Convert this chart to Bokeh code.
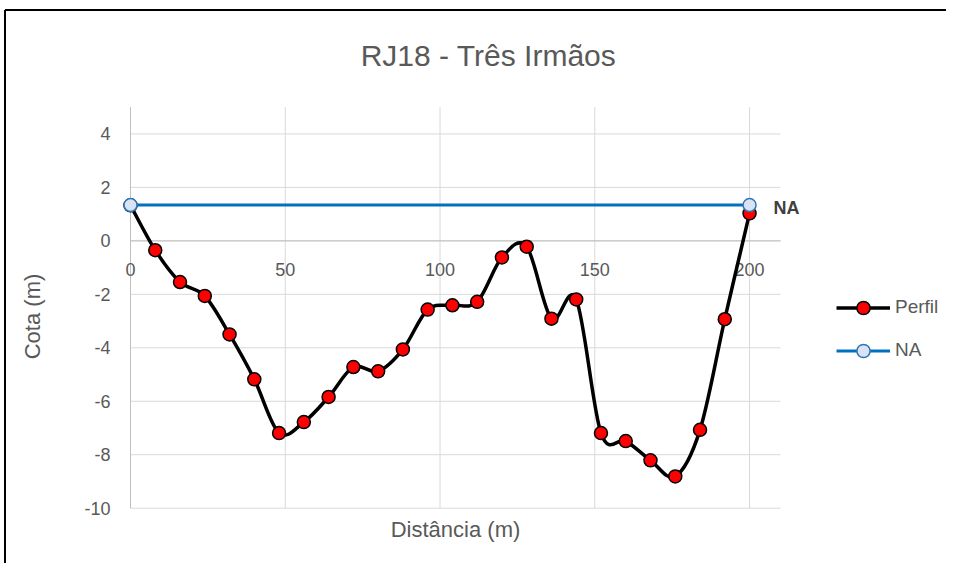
import numpy as np
from bokeh.plotting import figure
from bokeh.models import Range1d, Legend, LegendItem, ColumnDataSource
from bokeh.core.properties import value
from bokeh.embed import file_html
from bokeh.resources import INLINE

# ---------------- data ----------------
title_text = "RJ18 - Três Irmãos"
x_label = "Distância (m)"
y_label = "Cota (m)"

dist = [0, 8, 16, 24, 32, 40, 48, 56, 64, 72, 80, 88, 96, 104, 112, 120, 128,
        136, 144, 152, 160, 168, 176, 184, 192, 200]
cota = [1.33, -0.35, -1.54, -2.06, -3.50, -5.18, -7.19, -6.78, -5.84, -4.72,
        -4.88, -4.06, -2.57, -2.41, -2.28, -0.62, -0.22, -2.91, -2.19, -7.19,
        -7.49, -8.21, -8.81, -7.07, -2.93, 1.03]

na_x = [0, 200]
na_y = [1.34, 1.34]
na_label = ["NA"]

x_ticks = [0, 50, 100, 150, 200]
x_tick_labels = ["0", "50", "100", "150", "200"]
y_ticks = [-10, -8, -6, -4, -2, 0, 2, 4]
y_tick_labels = ["-10", "-8", "-6", "-4", "-2", "0", "2", "4"]

# plot-area extent in data units
X_MIN, X_MAX = 0, 210
Y_MIN, Y_MAX = -10, 5

# ---------------- layout (picture pixels, figure origin = picture origin) ----------------
W, H = 946, 563
PLOT_L, PLOT_R = 130, 780
PLOT_T, PLOT_B = 106.7, 507.7
SX = (PLOT_R - PLOT_L) / (X_MAX - X_MIN)
SY = (PLOT_B - PLOT_T) / (Y_MAX - Y_MIN)


def px_x(px):
    return X_MIN + (px - PLOT_L) / SX


def px_y(py):
    return Y_MAX - (py - PLOT_T) / SY


FONT = "Liberation Sans"
GRAY = "#595959"
GRID = "#d9d9d9"
AXIS = "#bfbfbf"

x_range = Range1d(px_x(0), px_x(W))
y_range = Range1d(px_y(H), px_y(0))
p = figure(width=W, height=H, x_range=x_range, y_range=y_range,
           x_axis_location=None, y_axis_location=None,
           output_backend="svg", toolbar_location=None,
           min_border_left=0, min_border_right=0, min_border_top=0, min_border_bottom=0)
p.outline_line_color = None
p.xgrid.visible = False
p.ygrid.visible = False
p.background_fill_color = "white"
p.border_fill_color = "white"

# outer chart border (left and top edges visible in the reference)
bx, by = px_x(4.5), px_y(9.5)
p.segment(x0=[bx, bx], y0=[by, by], x1=[bx, x_range.end], y1=[y_range.start, by],
          line_color="black", line_width=2)

# grid lines
p.segment(x0=x_ticks, y0=[Y_MIN] * len(x_ticks), x1=x_ticks, y1=[Y_MAX] * len(x_ticks),
          line_color=GRID, line_width=1)
p.segment(x0=[X_MIN] * len(y_ticks), y0=y_ticks, x1=[X_MAX] * len(y_ticks), y1=y_ticks,
          line_color=GRID, line_width=1)
# axis lines (x axis crosses at y = 0, y axis at x = 0)
p.segment(x0=[X_MIN], y0=[0], x1=[X_MAX], y1=[0], line_color=AXIS, line_width=1)
p.segment(x0=[0], y0=[Y_MIN], x1=[0], y1=[Y_MAX], line_color=AXIS, line_width=1)

# tick labels
p.text(x=[0] * len(y_ticks), y=y_ticks, text=y_tick_labels, x_offset=-20,
       text_align="right", text_baseline="middle", text_font=value(FONT),
       text_font_size="18px", text_color=GRAY)
p.text(x=x_ticks, y=[0] * len(x_ticks), text=x_tick_labels, y_offset=29,
       text_align="center", text_baseline="middle", text_font=value(FONT),
       text_font_size="18px", text_color=GRAY)

# title and axis titles
p.text(x=[px_x(488)], y=[px_y(55)], text=[title_text], text_align="center",
       text_baseline="middle", text_font=value(FONT), text_font_size="30px",
       text_color=GRAY)
p.text(x=[px_x(455)], y=[px_y(529)], text=[x_label], text_align="center",
       text_baseline="middle", text_font=value(FONT), text_font_size="22px",
       text_color=GRAY)
p.text(x=[px_x(32)], y=[px_y(316)], text=[y_label], angle=np.pi / 2,
       text_align="center", text_baseline="middle", text_font=value(FONT),
       text_font_size="22px", text_color=GRAY)

# ---------------- smoothed profile (Bezier segments from the data) ----------------
xs = np.array(dist, dtype=float)
ys = np.array(cota, dtype=float)
n = len(xs)
xp = np.concatenate([[xs[0]], xs, [xs[-1]]])
yp = np.concatenate([[ys[0]], ys, [ys[-1]]])
seg = ColumnDataSource(dict(
    x0=xs[:-1], y0=ys[:-1], x1=xs[1:], y1=ys[1:],
    cx0=xs[:-1] + (xp[2:n + 1] - xp[0:n - 1]) / 6.0,
    cy0=ys[:-1] + (yp[2:n + 1] - yp[0:n - 1]) / 6.0,
    cx1=xs[1:] - (xp[3:n + 2] - xp[1:n]) / 6.0,
    cy1=ys[1:] - (yp[3:n + 2] - yp[1:n]) / 6.0,
))
bez = p.bezier(x0="x0", y0="y0", x1="x1", y1="y1", cx0="cx0", cy0="cy0",
               cx1="cx1", cy1="cy1", source=seg, line_color="black", line_width=3.5)
perfil_pts = p.scatter(dist, cota, size=13, fill_color="#ff0000",
                       line_color="black", line_width=1.5)

na_line = p.line(na_x, na_y, line_color="#0070c0", line_width=3)
na_pts = p.scatter(na_x, na_y, size=13, fill_color="#dae3f3",
                   line_color="#2e75b6", line_width=1.5)

# bold NA label at the end of the water line
p.text(x=na_x[-1:], y=na_y[-1:], text=na_label, x_offset=24, y_offset=3,
       text_align="left", text_baseline="middle", text_font=value(FONT),
       text_font_size="18px", text_font_style="bold", text_color="#404040")

GLYPH_H = 33
legend = Legend(items=[LegendItem(label="Perfil", renderers=[bez, perfil_pts]),
                       LegendItem(label="NA", renderers=[na_line, na_pts])],
                location=(836, H - 350 - GLYPH_H / 2), orientation="vertical",
                padding=0, margin=0, spacing=10, glyph_width=54, glyph_height=GLYPH_H,
                label_standoff=5, label_text_font=FONT, label_text_font_size="19px",
                label_text_color=GRAY, border_line_color=None,
                background_fill_alpha=0)
p.add_layout(legend, "center")

open("out.html", "w").write(file_html(p, INLINE))
